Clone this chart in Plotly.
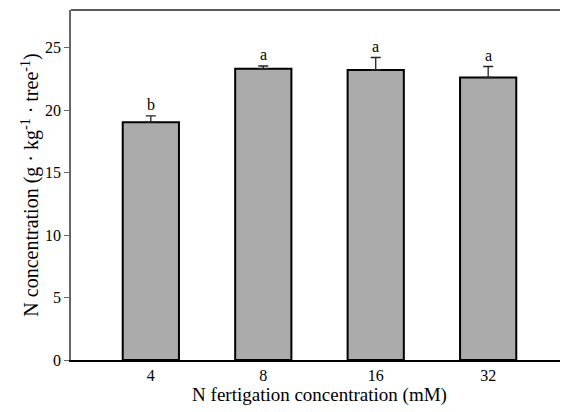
import plotly.graph_objects as go

categories = ["4", "8", "16", "32"]
values = [19.03, 23.3, 23.2, 22.6]
errors = [0.5, 0.22, 1.0, 0.88]
letters = ["b", "a", "a", "a"]
y_ticks = [0, 5, 10, 15, 20, 25]

FONT = "Liberation Serif"

fig = go.Figure()
fig.add_trace(go.Bar(
    x=list(range(len(categories))), y=values,
    width=0.5,
    marker=dict(color="#ababab", line=dict(color="black", width=2)),
    error_y=dict(type="data", symmetric=False, array=errors, arrayminus=[0]*len(errors),
                 color="#222222", thickness=1.3, width=5),
))

for i, (v, e, l) in enumerate(zip(values, errors, letters)):
    fig.add_annotation(x=i, y=v + e, text=l, showarrow=False, yanchor="bottom",
                       yshift=1, font=dict(family=FONT, size=16, color="black"))

fig.add_shape(type="line", xref="paper", yref="paper", x0=0, x1=1, y0=1, y1=1,
              line=dict(color="#222222", width=1.5))

fig.update_layout(
    width=560, height=404,
    margin=dict(l=63, r=0, t=2, b=52),
    paper_bgcolor="white", plot_bgcolor="white",
    showlegend=False,
    font=dict(family=FONT, size=16, color="black"),
    xaxis=dict(
        range=[-0.71, 3.71],
        tickmode="array", tickvals=list(range(len(categories))), ticktext=categories,
        showline=True, linecolor="black", linewidth=1.5,
        ticks="", showgrid=False, zeroline=False,
        tickfont=dict(family=FONT, size=16),
        title=dict(text="N fertigation concentration (mM)", font=dict(family=FONT, size=19), standoff=0),
    ),
    yaxis=dict(
        range=[0, 28],
        tickmode="array", tickvals=y_ticks,
        showline=True, linecolor="#666666", linewidth=1.5,
        ticks="outside", ticklen=5, tickcolor="#666666", tickwidth=1,
        showgrid=False, zeroline=False,
        tickfont=dict(family=FONT, size=16),
        title=dict(text="N concentration (g · kg<sup>-1</sup> · tree<sup>-1</sup>)",
                   font=dict(family=FONT, size=20), standoff=1),
    ),
)

fig.write_html("out.html")
